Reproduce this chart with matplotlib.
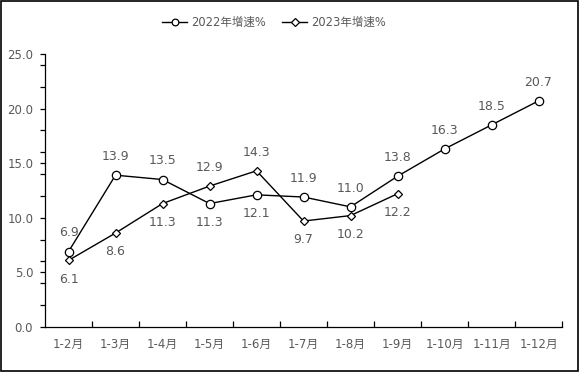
import matplotlib.pyplot as plt
from matplotlib.patches import Rectangle

plt.rcParams['font.family'] = ['DejaVu Sans', 'Noto Sans CJK SC']

months = ["1-2月", "1-3月", "1-4月", "1-5月", "1-6月", "1-7月",
          "1-8月", "1-9月", "1-10月", "1-11月", "1-12月"]
growth_2022 = [6.9, 13.9, 13.5, 11.3, 12.1, 11.9, 11.0, 13.8, 16.3, 18.5, 20.7]
growth_2023 = [6.1, 8.6, 11.3, 12.9, 14.3, 9.7, 10.2, 12.2]
# label placement: 1 above, -1 below
pos_2022 = [1, 1, 1, -1, -1, 1, 1, 1, 1, 1, 1]
pos_2023 = [-1, -1, -1, 1, 1, -1, -1, -1]

gray = "#595959"

fig = plt.figure(figsize=(5.8, 3.72), dpi=100)
ax = fig.add_axes([0.0776, 0.121, 0.8914, 0.734])

x22 = range(len(growth_2022))
x23 = range(len(growth_2023))
ax.plot(x22, growth_2022, color="black", lw=1, marker="o", ms=6,
        mfc="white", mec="black", mew=0.9, label="2022年增速%")
ax.plot(x23, growth_2023, color="black", lw=1, marker="D", ms=4.5,
        mfc="white", mec="black", mew=0.9, label="2023年增速%")

for xs, ys, ps in [(x22, growth_2022, pos_2022), (x23, growth_2023, pos_2023)]:
    for xi, yi, p in zip(xs, ys, ps):
        ax.annotate(f"{yi:.1f}", (xi, yi), xytext=(0, 13.5 * p),
                    textcoords="offset points", ha="center", va="center",
                    fontsize=9, color=gray)

ax.set_xlim(-0.5, len(months) - 0.5)
ax.set_ylim(0, 25)

# y ticks: every 2 and every 5, labels only on multiples of 5
yt = sorted(set(list(range(0, 26, 2)) + list(range(0, 26, 5))))
ax.set_yticks(yt)
ax.set_yticklabels([f"{v:.1f}" if v % 5 == 0 else "" for v in yt])
ax.tick_params(axis="y", direction="out", length=3.5, width=0.9,
               labelsize=8.5, labelcolor=gray, pad=5)

# x ticks at category boundaries, pointing up; labels at centres
ax.set_xticks([i + 0.5 for i in range(len(months))])
ax.set_xticklabels([])
ax.set_xticks(range(len(months)), minor=True)
ax.set_xticklabels(months, minor=True)
ax.tick_params(axis="x", which="major", direction="in", length=4, width=0.9)
ax.tick_params(axis="x", which="minor", length=0, labelsize=8.5,
               labelcolor=gray, pad=8)

for s in ["top", "right"]:
    ax.spines[s].set_visible(False)
for s in ["left", "bottom"]:
    ax.spines[s].set_linewidth(0.9)

fig.legend(loc="upper center", bbox_to_anchor=(0.472, 0.985), ncol=2,
           frameon=False, fontsize=8.3, labelcolor=gray, handlelength=2.2,
           columnspacing=1.4, handletextpad=0.3, markerscale=0.8)

fig.patches.append(Rectangle((0.002, 0.003), 0.995, 0.993, transform=fig.transFigure,
                             fill=False, edgecolor="black", lw=1.2))

fig.savefig("out.png", dpi=100)
